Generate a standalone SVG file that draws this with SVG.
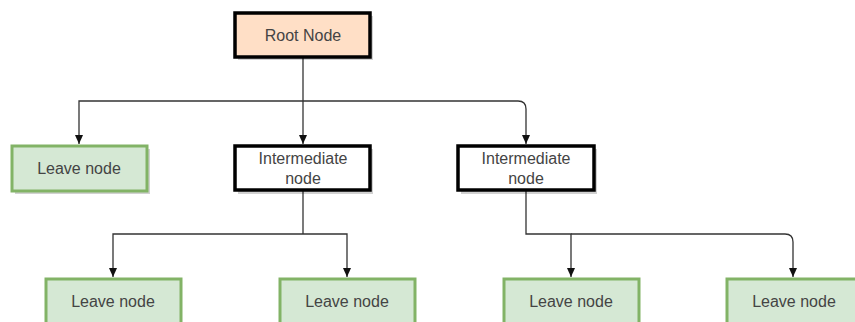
<svg xmlns="http://www.w3.org/2000/svg" width="855" height="322" viewBox="0 0 855 322">
<defs>
<style>
.leaf{fill:#d5e8d4;stroke:#82b366;stroke-width:3}
.inter{fill:#ffffff;stroke:#000;stroke-width:3.5}
.root{fill:#ffdfc6;stroke:#000;stroke-width:3.5}
.shadow{fill:#000;opacity:0.18}
.t{font-family:"Liberation Sans",Arial,sans-serif;font-size:16px;fill:#444;text-anchor:middle}
.c{fill:none;stroke:#333;stroke-width:1.3}
</style>
<marker id="arr" markerWidth="10" markerHeight="10" refX="9" refY="5" orient="auto" markerUnits="userSpaceOnUse" viewBox="0 0 10 10">
<path d="M0,1 L9,5 L0,9 Z" fill="#111"/>
</marker>
</defs>
<rect width="855" height="322" fill="#fff"/>
<g id="connectors">
<path class="c" d="M303,57 V101"/>
<path class="c" d="M303,101 H79 V144" marker-end="url(#arr)"/>
<path class="c" d="M303,101 V144" marker-end="url(#arr)"/>
<path class="c" d="M303,101 H518 Q526,101 526,109 V144" marker-end="url(#arr)"/>
<path class="c" d="M303,190 V234"/>
<path class="c" d="M303,234 H113 V277" marker-end="url(#arr)"/>
<path class="c" d="M303,234 H347 V277" marker-end="url(#arr)"/>
<path class="c" d="M526,190 V234 H571 V277" marker-end="url(#arr)"/>
<path class="c" d="M571,234 H785 Q793,234 793,242 V277" marker-end="url(#arr)"/>
</g>
<g id="root">
<rect class="shadow" x="238" y="16" width="135" height="44"/>
<rect class="root" x="235" y="13" width="135" height="44"/>
<text class="t" x="303" y="41">Root Node</text>
</g>
<g id="leaf1">
<rect class="shadow" x="15" y="149" width="135" height="45"/>
<rect class="leaf" x="12" y="146" width="135" height="45"/>
<text class="t" x="79" y="174">Leave node</text>
</g>
<g id="inter1">
<rect class="shadow" x="238" y="149" width="135" height="45"/>
<rect class="inter" x="235" y="146" width="135" height="44"/>
<text class="t" x="303" y="164">Intermediate</text>
<text class="t" x="303" y="184">node</text>
</g>
<g id="inter2">
<rect class="shadow" x="461" y="149" width="136" height="45"/>
<rect class="inter" x="458" y="146" width="136" height="44"/>
<text class="t" x="526" y="164">Intermediate</text>
<text class="t" x="526" y="184">node</text>
</g>
<g id="leaf2">
<rect class="leaf" x="46" y="279" width="135" height="46"/>
<text class="t" x="113" y="307">Leave node</text>
</g>
<g id="leaf3">
<rect class="leaf" x="280" y="279" width="135" height="46"/>
<text class="t" x="347" y="307">Leave node</text>
</g>
<g id="leaf4">
<rect class="leaf" x="504" y="279" width="135" height="46"/>
<text class="t" x="571" y="307">Leave node</text>
</g>
<g id="leaf5">
<rect class="leaf" x="727" y="279" width="135" height="46"/>
<text class="t" x="794" y="307">Leave node</text>
</g>
</svg>
